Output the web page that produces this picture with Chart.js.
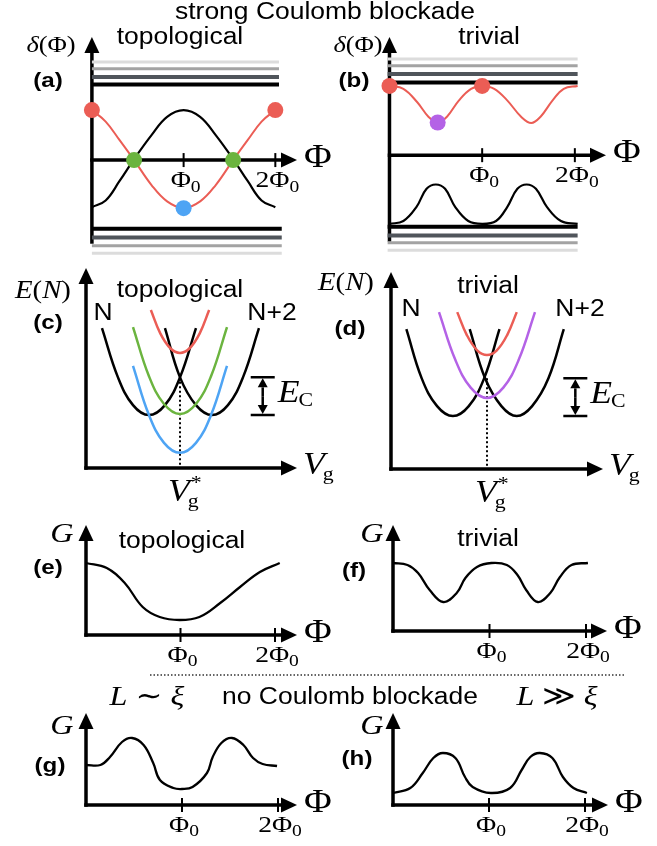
<!DOCTYPE html>
<html>
<head>
<meta charset="utf-8">
<script src="https://cdn.jsdelivr.net/npm/chart.js@4.4.1/dist/chart.umd.min.js"></script>
<style>
  html, body { margin: 0; padding: 0; background: #fff; }
  #wrap { position: relative; width: 657px; height: 846px; }
  #wrap canvas { position: absolute; left: 0; top: 0; }
</style>
</head>
<body>
<div id="wrap"></div>
<script>
// ---- (a) strong Coulomb blockade, topological : delta(Phi), Phi in units of Phi0
const phiA = [0, 0.15, 0.3, 0.46, 0.65, 0.82, 1.0, 1.18, 1.35, 1.54, 1.7, 1.85, 2.0]
const redA = [1.04, 0.8, 0.42, 0, -0.52, -0.86, -1.0, -0.86, -0.52, 0, 0.42, 0.8, 1.04]
const blackA = [-0.98, -0.84, -0.44, 0.02, 0.52, 0.9, 1.04, 0.9, 0.52, 0.02, -0.44, -0.84, -0.98]
const redDotPhiA = [0, 2.0]
const redDotA = [1.04, 1.04]
const greenDotPhiA = [0.46, 1.54]
const greenDotA = [0, 0]
const blueDotPhiA = [1.0]
const blueDotA = [-1.0]
const levelsTopA = [1.57, 1.73, 1.9, 2.04]
const levelsBotA = [-1.43, -1.61, -1.78, -1.94]

// ---- (b) strong Coulomb blockade, trivial
const phiRedB = [0, 0.15, 0.3, 0.42, 0.52, 0.62, 0.75, 0.88, 1.0, 1.13, 1.27, 1.42, 1.53, 1.63, 1.76, 1.88, 2.03]
const redB = [1.44, 1.38, 1.1, 0.8, 0.68, 0.8, 1.14, 1.38, 1.44, 1.38, 1.14, 0.8, 0.67, 0.8, 1.14, 1.38, 1.44]
const phiBlackB = [0, 0.15, 0.29, 0.4, 0.5, 0.6, 0.71, 0.85, 1.0, 1.15, 1.27, 1.38, 1.48, 1.58, 1.7, 1.85, 2.03]
const blackB = [-1.43, -1.37, -1.08, -0.7, -0.61, -0.7, -1.08, -1.37, -1.43, -1.37, -1.08, -0.7, -0.61, -0.7, -1.08, -1.37, -1.43]
const redDotPhiB = [0, 1.0]
const redDotB = [1.44, 1.44]
const purpleDotPhiB = [0.52]
const purpleDotB = [0.68]
const levelsTopB = [1.51, 1.69, 1.86, 2.0]
const levelsBotB = [-1.49, -1.67, -1.82, -1.98]

// ---- (c) E(N) vs Vg, topological (E in units of E_C, Vg in units of Vg*)
const vgNC = [0.17, 0.34, 0.5, 0.67, 0.84, 1.0, 1.17]
const vgN2C = [0.84, 1.0, 1.17, 1.34, 1.51, 1.67, 1.84]
const eParabC = [3.78, 2.45, 1.7, 1.43, 1.7, 2.45, 3.78]
const vgMid = [0.5, 0.67, 0.83, 1.0, 1.17, 1.33, 1.5]
const eGreenC = [3.81, 2.48, 1.73, 1.46, 1.73, 2.48, 3.81]
const eBlueC = [2.76, 1.43, 0.68, 0.41, 0.68, 1.43, 2.76]
const vgRed = [0.69, 0.79, 0.9, 1.0, 1.1, 1.21, 1.31]
const eRedC = [4.27, 3.64, 3.23, 3.11, 3.23, 3.64, 4.27]
const vgStar = 1.0
const eCross = 2.45
const eMin = 1.43

// ---- (d) E(N) vs Vg, trivial
const vgND = [0.16, 0.32, 0.48, 0.645, 0.81, 0.97, 1.13]
const vgN2D = [0.82, 0.98, 1.15, 1.31, 1.47, 1.64, 1.8]
const eParabD = [3.78, 2.45, 1.7, 1.43, 1.7, 2.45, 3.78]
const ePurpleD = [4.24, 2.95, 2.2, 1.92, 2.2, 2.95, 4.24]
const eRedD = [4.24, 3.62, 3.2, 3.08, 3.2, 3.62, 4.24]

// ---- (e)-(h) conductance G vs Phi
const phiE = [0, 0.22, 0.41, 0.6, 0.78, 0.99, 1.2, 1.42, 1.63, 1.84, 2.05]
const gE = [1.44, 1.34, 1.04, 0.56, 0.36, 0.3, 0.36, 0.64, 0.96, 1.26, 1.44]
const phiF = [0, 0.15, 0.26, 0.38, 0.52, 0.66, 0.75, 0.87, 1.02, 1.18, 1.29, 1.38, 1.5, 1.63, 1.73, 1.85, 2.02]
const gF = [1.36, 1.32, 1.16, 0.82, 0.58, 0.76, 1.06, 1.28, 1.36, 1.32, 1.12, 0.82, 0.58, 0.76, 1.08, 1.32, 1.36]
const phiG = [0, 0.15, 0.25, 0.375, 0.48, 0.6, 0.7, 0.77, 0.91, 1.0, 1.11, 1.26, 1.32, 1.41, 1.52, 1.64, 1.74, 1.84, 1.99]
const gG = [0.8, 0.8, 0.96, 1.26, 1.34, 1.2, 0.84, 0.5, 0.34, 0.32, 0.36, 0.64, 0.96, 1.24, 1.34, 1.2, 0.94, 0.82, 0.78]
const phiH = [0, 0.18, 0.31, 0.42, 0.52, 0.65, 0.75, 0.83, 1.02, 1.22, 1.34, 1.43, 1.53, 1.66, 1.77, 1.88, 2.02]
const gH = [0.24, 0.34, 0.64, 0.94, 1.04, 0.94, 0.56, 0.36, 0.24, 0.34, 0.7, 0.96, 1.04, 0.94, 0.56, 0.34, 0.24]

const phiTicks = [1, 2]
const phiTickLabels = ['', '2']

// ---- styles
const W = 657
const H = 846
const RED = '#eb5d55'
const GREEN = '#6bb43f'
const BLUE = '#4ea4f4'
const PURPLE = '#b462e6'
const LEVEL_COLORS = ['#000000', '#50555b', '#a3a3a3', '#dcdcdc']
const LEVEL_WIDTHS = [4, 4, 3, 3]
const SANS = '"Liberation Sans", Arial, sans-serif'
const SERIF = '"Liberation Serif", "DejaVu Serif", serif'
const SX = 1.15
const rom = n => n + 'px ' + SERIF
const ital = n => 'italic ' + n + 'px ' + SERIF
const sans = n => n + 'px ' + SANS
const bold = n => 'bold ' + n + 'px ' + SANS

// scale box so that data (0,0) lands on pixel (ox, oy)
function frame (ox, oy, ux, uy) {
  return {
    x: { type: 'linear', display: false, min: -ox / ux, max: (W - ox) / ux },
    y: { type: 'linear', display: false, min: -(H - oy) / uy, max: oy / uy }
  }
}

function pts (xs, ys) {
  return xs.map((x, i) => ({ x: x, y: ys[i] }))
}
function curve (xs, ys, color, width) {
  return { data: pts(xs, ys), borderColor: color, borderWidth: width || 2.2, pointRadius: 0, fill: false, tension: 0.4 }
}
function dots (xs, ys, color) {
  return { data: pts(xs, ys), showLine: false, pointRadius: 8, pointBackgroundColor: color, pointBorderWidth: 0, borderColor: color }
}
function levels (vals, x1, x2) {
  return vals.map((v, i) => ({
    data: [{ x: x1, y: v }, { x: x2, y: v }],
    borderColor: LEVEL_COLORS[i],
    borderWidth: LEVEL_WIDTHS[i],
    pointRadius: 0,
    tension: 0
  }))
}

// text drawn with a slight horizontal stretch (the figure is wider than tall)
function txt (ctx, s, x, y, font, align) {
  ctx.save()
  ctx.font = font
  ctx.textBaseline = 'middle'
  ctx.textAlign = 'left'
  const w = ctx.measureText(s).width * SX
  const left = align === 'left' ? x : align === 'right' ? x - w : x - w / 2
  ctx.translate(left, y)
  ctx.scale(SX, 1)
  ctx.fillText(s, 0, 0)
  ctx.restore()
  return w
}
function math (ctx, parts, x, y, align) {
  let total = 0
  for (const p of parts) {
    ctx.font = p[1]
    total += ctx.measureText(p[0]).width * SX
  }
  let cx = align === 'left' ? x : x - total / 2
  for (const p of parts) {
    cx += txt(ctx, p[0], cx, y + (p[2] || 0), p[1], 'left')
  }
}
function arrow (ctx, x1, y1, x2, y2, lw, hl, hw) {
  lw = lw || 3.5
  hl = hl || 16
  hw = hw || 7.5
  const a = Math.atan2(y2 - y1, x2 - x1)
  const bx = x2 - hl * Math.cos(a)
  const by = y2 - hl * Math.sin(a)
  ctx.lineWidth = lw
  ctx.beginPath()
  ctx.moveTo(x1, y1)
  ctx.lineTo(bx, by)
  ctx.stroke()
  ctx.beginPath()
  ctx.moveTo(x2, y2)
  ctx.lineTo(bx + hw * Math.sin(a), by - hw * Math.cos(a))
  ctx.lineTo(bx - hw * Math.sin(a), by + hw * Math.cos(a))
  ctx.closePath()
  ctx.fill()
}
function phiLabel (ctx, pre, x, y) {
  math(ctx, [[pre + 'Φ', rom(24)], ['0', rom(17), 6]], x, y)
}
function vg (ctx, x, y, star) {
  const w = txt(ctx, 'V', x, y, ital(31), 'left')
  txt(ctx, 'g', x + w - 2, y + 9, rom(19), 'left')
  if (star) txt(ctx, '*', x + w + 1, y - 9, rom(19), 'left')
}
function ec (ctx, x, y) {
  const w = txt(ctx, 'E', x, y, ital(31), 'left')
  txt(ctx, 'C', x + w - 1, y + 7, rom(19), 'left')
}
function enLabel (ctx, x, y) {
  math(ctx, [['E', ital(25)], ['(', rom(25)], ['N', ital(25)], [')', rom(25)]], x, y)
}
function deltaLabel (ctx, x, y) {
  math(ctx, [['δ', ital(23)], ['(Φ)', rom(23)]], x, y)
}

// axes, arrows and ticks for one panel
function decoPlugin (name, ax) {
  return {
    id: 'deco' + name,
    beforeDatasetsDraw (chart) {
      const ctx = chart.ctx
      const xs = chart.scales.x
      const ys = chart.scales.y
      const x0 = xs.getPixelForValue(0)
      const y0 = ys.getPixelForValue(0)
      ctx.save()
      ctx.fillStyle = '#000'
      ctx.strokeStyle = '#000'
      const yb = ax.yFrom !== undefined ? ys.getPixelForValue(ax.yFrom) : y0 + 1.75
      arrow(ctx, x0, yb, x0, ax.yTip)
      arrow(ctx, x0 - 1.75, y0, ax.xTip, y0)
      if (ax.ticks) {
        ctx.lineWidth = 2
        phiTicks.forEach((t, i) => {
          const tx = xs.getPixelForValue(t)
          ctx.beginPath()
          ctx.moveTo(tx, y0 - 7)
          ctx.lineTo(tx, y0 + 7)
          ctx.stroke()
          phiLabel(ctx, phiTickLabels[i], tx + 2, y0 + 21)
        })
        txt(ctx, 'Φ', ax.xTip + 7, y0 - 2, rom(33), 'left')
      }
      if (ax.star) {
        const sx = xs.getPixelForValue(vgStar)
        ctx.lineWidth = 2
        ctx.setLineDash([2, 2.5])
        ctx.beginPath()
        ctx.moveTo(sx, ys.getPixelForValue(eCross))
        ctx.lineTo(sx, y0)
        ctx.stroke()
        ctx.setLineDash([])
        const bx = xs.getPixelForValue(ax.ecAt)
        const t = ys.getPixelForValue(eCross)
        const b = ys.getPixelForValue(eMin)
        ctx.lineWidth = 2.5
        ctx.beginPath()
        ctx.moveTo(bx - 12, t)
        ctx.lineTo(bx + 12, t)
        ctx.moveTo(bx - 12, b)
        ctx.lineTo(bx + 12, b)
        ctx.stroke()
        const m = (t + b) / 2
        arrow(ctx, bx, m, bx, t + 1, 2.5, 9, 5)
        arrow(ctx, bx, m, bx, b - 1, 2.5, 9, 5)
        vg(ctx, ax.xTip + 6, y0 - 2, false)
        vg(ctx, sx - 12, y0 + 25, true)
        ec(ctx, bx + 15, m - 2)
      }
      ctx.restore()
    },
    afterDatasetsDraw (chart) {
      const ctx = chart.ctx
      ctx.save()
      ctx.fillStyle = '#000'
      ax.text(ctx)
      ctx.restore()
    }
  }
}

function makeChart (name, scales, datasets, ax) {
  const cv = document.createElement('canvas')
  cv.width = W
  cv.height = H
  cv.style.width = W + 'px'
  cv.style.height = H + 'px'
  document.getElementById('wrap').appendChild(cv)
  return new Chart(cv, {
    type: 'line',
    data: { datasets: datasets },
    options: {
      responsive: false,
      animation: false,
      events: [],
      layout: { padding: 0 },
      plugins: { legend: { display: false }, tooltip: { enabled: false }, title: { display: false } },
      scales: scales
    },
    plugins: [decoPlugin(name, ax)]
  })
}

// (a)
makeChart('a', frame(86, 155, 94, 49), [
  dots(redDotPhiA, redDotA, RED),
  dots(greenDotPhiA, greenDotA, GREEN),
  dots(blueDotPhiA, blueDotA, BLUE),
  curve(phiA, redA, RED, 2),
  curve(phiA, blackA, '#000', 2.2),
  ...levels(levelsTopA, 0, 2.04),
  ...levels(levelsBotA, 0, 2.07)
], {
  yFrom: -1.74, yTip: 37, xTip: 297, ticks: true,
  text (ctx) {
    txt(ctx, 'strong Coulomb blockade', 325, 13, sans(23))
    txt(ctx, 'topological', 180, 38, sans(23))
    deltaLabel(ctx, 51, 46)
    txt(ctx, '(a)', 48, 81, bold(21))
  }
})

// (b)
makeChart('b', frame(391, 150, 95, 49), [
  dots(redDotPhiB, redDotB, RED),
  dots(purpleDotPhiB, purpleDotB, PURPLE),
  curve(phiRedB, redB, RED, 2),
  curve(phiBlackB, blackB, '#000', 2.2),
  ...levels(levelsTopB, -0.02, 2.03),
  ...levels(levelsBotB, -0.02, 2.03)
], {
  yFrom: -1.8, yTip: 37, xTip: 606, ticks: true,
  text (ctx) {
    txt(ctx, 'trivial', 489, 38, sans(23))
    deltaLabel(ctx, 358, 46)
    txt(ctx, '(b)', 354, 81, bold(21))
  }
})

// (c)
makeChart('c', frame(86, 468, 94, 37), [
  curve(vgRed, eRedC, RED, 2.5),
  curve(vgMid, eGreenC, GREEN, 2.5),
  curve(vgMid, eBlueC, BLUE, 2.5),
  curve(vgNC, eParabC, '#000', 2.5),
  curve(vgN2C, eParabC, '#000', 2.5)
], {
  yTip: 268, xTip: 297, star: true, ecAt: 1.88,
  text (ctx) {
    enLabel(ctx, 43, 291)
    txt(ctx, '(c)', 48, 323, bold(21))
    txt(ctx, 'topological', 180, 291, sans(23))
    txt(ctx, 'N', 103, 314, sans(23))
    txt(ctx, 'N+2', 272, 314, sans(23))
  }
})

// (d)
makeChart('d', frame(391, 469, 96, 37), [
  curve(vgRed, eRedD, RED, 2.5),
  curve(vgMid, ePurpleD, PURPLE, 2.5),
  curve(vgND, eParabD, '#000', 2.5),
  curve(vgN2D, eParabD, '#000', 2.5)
], {
  yTip: 272, xTip: 603, star: true, ecAt: 1.92,
  text (ctx) {
    enLabel(ctx, 346, 283)
    txt(ctx, '(d)', 350, 329, bold(21))
    txt(ctx, 'trivial', 488, 287, sans(23))
    txt(ctx, 'N', 411, 310, sans(23))
    txt(ctx, 'N+2', 580, 310, sans(23))
  }
})

// (e)
makeChart('e', frame(86, 635, 94.5, 50), [curve(phiE, gE, '#000', 2.3)], {
  yTip: 525, xTip: 297, ticks: true,
  text (ctx) {
    txt(ctx, 'G', 62, 535, ital(28))
    txt(ctx, '(e)', 48, 568, bold(21))
    txt(ctx, 'topological', 182, 542, sans(23))
  }
})

// (f)
makeChart('f', frame(393, 631, 96.5, 50), [curve(phiF, gF, '#000', 2.3)], {
  yTip: 525, xTip: 607, ticks: true,
  text (ctx) {
    txt(ctx, 'G', 372, 535, ital(28))
    txt(ctx, '(f)', 354, 571, bold(21))
    txt(ctx, 'trivial', 488, 540, sans(23))
  }
})

// (g)
makeChart('g', frame(86, 805, 96, 50), [curve(phiG, gG, '#000', 2.3)], {
  yTip: 713, xTip: 297, ticks: true,
  text (ctx) {
    ctx.strokeStyle = '#333'
    ctx.lineWidth = 1.5
    ctx.setLineDash([1.5, 2])
    ctx.beginPath()
    ctx.moveTo(150, 675)
    ctx.lineTo(625, 675)
    ctx.stroke()
    ctx.setLineDash([])
    math(ctx, [['L', ital(28)], [' ∼ ', rom(28)], ['ξ', ital(28)]], 147, 698)
    txt(ctx, 'no Coulomb blockade', 350, 698, sans(23))
    math(ctx, [['L', ital(28)], [' ≫ ', rom(28)], ['ξ', ital(28)]], 557, 698)
    txt(ctx, 'G', 62, 727, ital(28))
    txt(ctx, '(g)', 50, 766, bold(21))
  }
})

// (h)
makeChart('h', frame(393, 805, 96, 50), [curve(phiH, gH, '#000', 2.3)], {
  yTip: 713, xTip: 608, ticks: true,
  text (ctx) {
    txt(ctx, 'G', 372, 727, ital(28))
    txt(ctx, '(h)', 357, 759, bold(21))
  }
})
</script>
</body>
</html>
